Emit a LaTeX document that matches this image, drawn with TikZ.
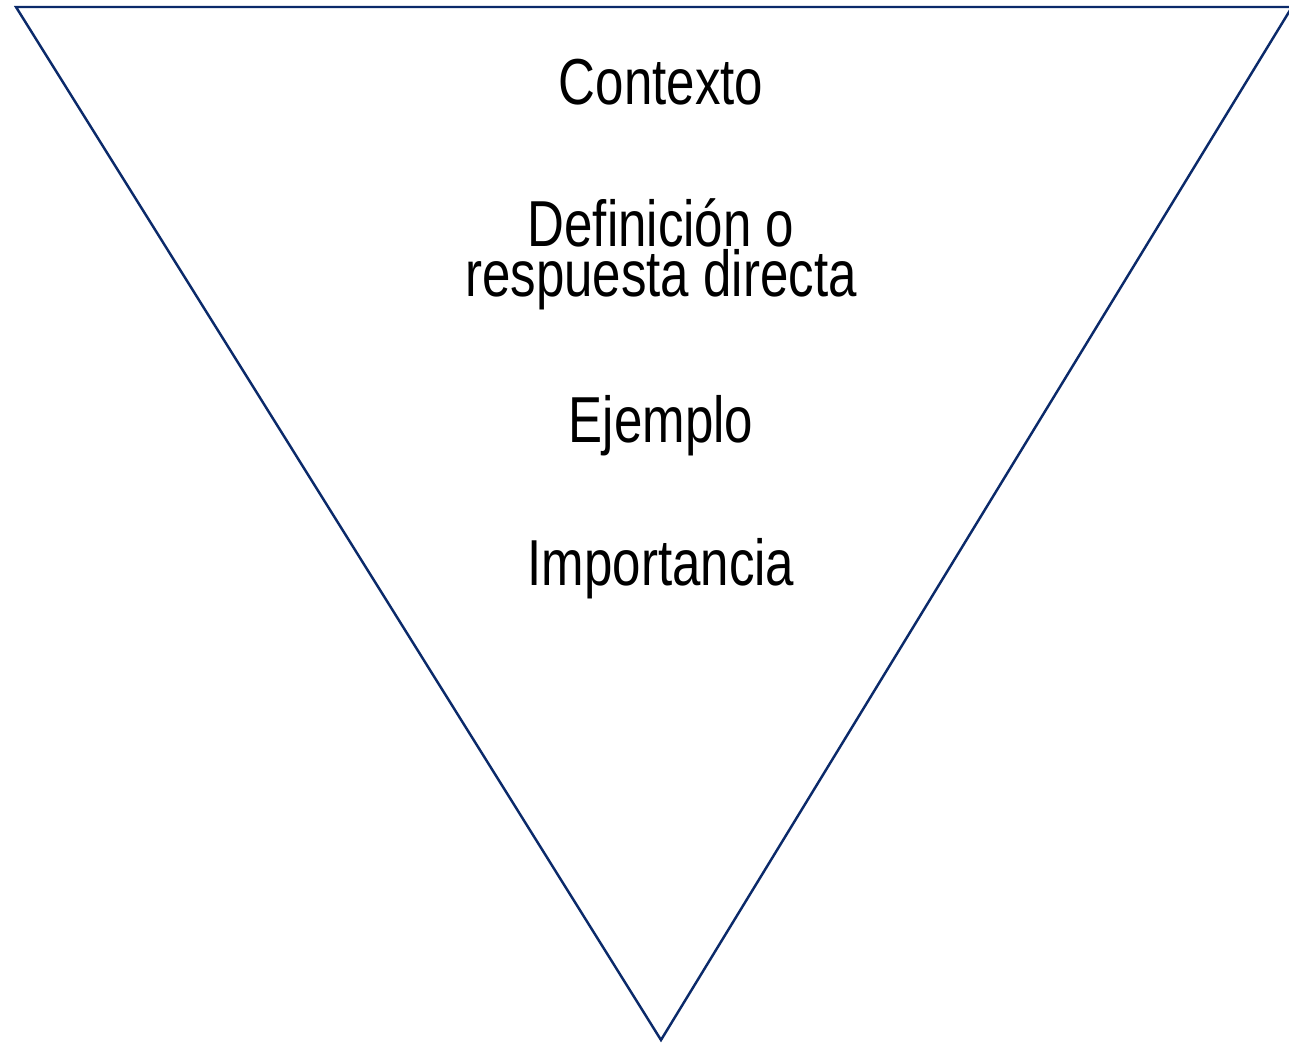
\documentclass[tikz,border=0pt]{standalone}
\usepackage{fontspec}
\setmainfont[FakeStretch=0.785]{Liberation Sans}
\usetikzlibrary{positioning}
\definecolor{navy}{HTML}{0B2A6A}

\begin{document}
\begin{tikzpicture}[x=0.02cm, y=-0.02cm,
  lbl/.style={font=\fontsize{37}{28.5}\selectfont, align=center, anchor=base, inner sep=0pt}]

\useasboundingbox (0,0) rectangle (1289,1043);

% ======================================
% THE TRIANGLE
% ======================================
\coordinate (tl) at (16,7);
\coordinate (tr) at (1292,7);
\coordinate (apex) at (661,1040);
\draw[navy, line width=1.4pt, line join=miter] (tl) -- (tr) -- (apex) -- cycle;

% ======================================
% THE LABELS
% ======================================
\node[lbl] (ctx) at (661,105) {Contexto};
\node[lbl] (def) at (661,297) {Definición o\\respuesta directa};
\node[lbl] (ej) at (661,443) {Ejemplo};
\node[lbl] (imp) at (661,586) {Importancia};

\end{tikzpicture}
\end{document}
